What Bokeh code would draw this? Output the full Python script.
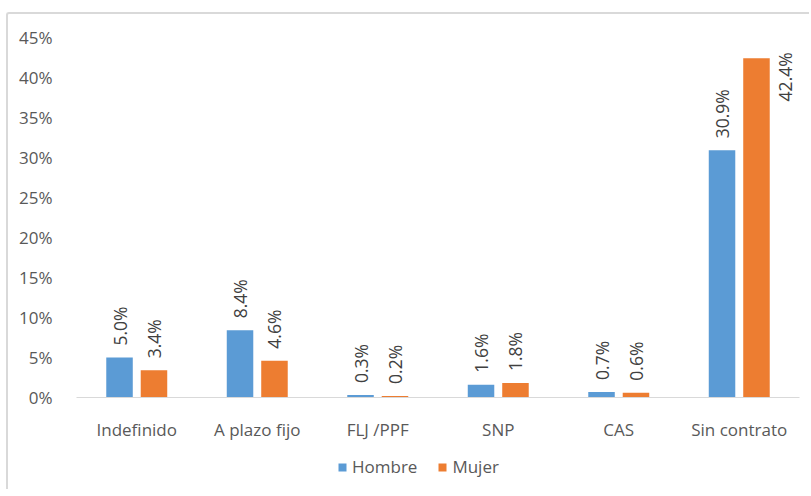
from bokeh.plotting import figure
from bokeh.layouts import column
from bokeh.models import ColumnDataSource, Legend, LegendItem, FactorRange
from bokeh.transform import dodge
from bokeh.core.properties import value
from bokeh.embed import file_html
from bokeh.resources import INLINE

categories = ["Indefinido", "A plazo fijo", "FLJ /PPF", "SNP", "CAS", "Sin contrato"]
hombre = [5.0, 8.4, 0.3, 1.6, 0.7, 30.9]
mujer = [3.4, 4.6, 0.2, 1.8, 0.6, 42.4]
series_names = ["Hombre", "Mujer"]
y_ticks = [0, 5, 10, 15, 20, 25, 30, 35, 40, 45]

FONT = "Open Sans"
FS = "17px"
BLUE = "#5b9bd5"
ORANGE = "#ed7d31"
YMAX = 45

p = figure(x_range=FactorRange(*categories), y_range=(0, YMAX),
           width=801, height=430, output_backend="svg", toolbar_location=None,
           min_border_left=68, min_border_right=10, min_border_top=23, min_border_bottom=47)
p.outline_line_color = None
p.xgrid.grid_line_color = None
p.ygrid.grid_line_color = None

src = ColumnDataSource(dict(
    cat=categories, h=hombre, m=mujer,
    hl=[f"{v:.1f}%" for v in hombre], ml=[f"{v:.1f}%" for v in mujer],
))

r1 = p.vbar(x=dodge("cat", -0.143, range=p.x_range), top="h", width=0.22, source=src,
            fill_color=BLUE, line_color=None)
r2 = p.vbar(x=dodge("cat", 0.143, range=p.x_range), top="m", width=0.22, source=src,
            fill_color=ORANGE, line_color=None)

# data labels: above bar normally, beside bar if it would overflow the plot area
def labels(vals, texts, off):
    normal = [i for i, v in enumerate(vals) if v < YMAX - 6]
    beside = [i for i, v in enumerate(vals) if v >= YMAX - 6]
    s1 = ColumnDataSource(dict(cat=[categories[i] for i in normal], v=[vals[i] for i in normal],
                               t=[texts[i] for i in normal]))
    p.text(x=dodge("cat", off, range=p.x_range), y="v", text="t", source=s1, angle=1.5708,
           text_align="left", text_baseline="middle", y_offset=-12,
           text_font=value(FONT), text_font_size="17.5px", text_color="#404040")
    if beside:
        s2 = ColumnDataSource(dict(cat=[categories[i] for i in beside], v=[vals[i] for i in beside],
                                   t=[texts[i] for i in beside]))
        p.text(x=dodge("cat", off, range=p.x_range), y="v", text="t", source=s2, angle=1.5708,
               text_align="right", text_baseline="middle", x_offset=29, y_offset=-6,
               text_font=value(FONT), text_font_size="17.5px", text_color="#404040")

labels(hombre, src.data["hl"], -0.143)
labels(mujer, src.data["ml"], 0.143)

p.yaxis.ticker = y_ticks
p.yaxis.major_label_overrides = {t: f"{t}%" for t in y_ticks}
p.yaxis.axis_line_color = None
p.yaxis.major_tick_line_color = None
p.yaxis.minor_tick_line_color = None
p.yaxis.major_label_standoff = 18
p.yaxis.major_label_text_font = FONT
p.yaxis.major_label_text_font_size = FS
p.yaxis.major_label_text_color = "#595959"

p.xaxis.axis_line_color = "#d9d9d9"
p.xaxis.axis_line_width = 1
p.xaxis.major_tick_line_color = None
p.xaxis.minor_tick_line_color = None
p.xaxis.major_label_standoff = 14
p.xaxis.major_label_text_font = FONT
p.xaxis.major_label_text_font_size = FS
p.xaxis.major_label_text_color = "#595959"

# legend strip below the chart (swatch renderers sit outside the visible range)
lf = figure(width=801, height=45, output_backend="svg", toolbar_location=None,
            x_axis_type=None, y_axis_type=None, x_range=(0, 1), y_range=(0, 1),
            min_border=0)
lf.outline_line_color = None
lf.xgrid.grid_line_color = None
lf.ygrid.grid_line_color = None
e = ColumnDataSource(dict(x=[-10], t=[-10]))
l1 = lf.vbar(x="x", top="t", width=0.1, source=e, fill_color=BLUE, line_color=None)
l2 = lf.vbar(x="x", top="t", width=0.1, source=e, fill_color=ORANGE, line_color=None)
legend = Legend(items=[LegendItem(label=series_names[0], renderers=[l1]),
                       LegendItem(label=series_names[1], renderers=[l2])],
                location=(261, 11), orientation="horizontal",
                glyph_width=10, glyph_height=10, label_standoff=5, spacing=20,
                padding=0, margin=0, border_line_color=None, background_fill_alpha=0,
                label_text_font=FONT, label_text_font_size=FS, label_text_color="#595959")
lf.add_layout(legend)

layout = column(p, lf, spacing=0)
layout.styles = {"border-top": "2px solid #d9d9d9", "border-left": "2px solid #d9d9d9",
                 "margin-top": "12px", "margin-left": "6px", "border-top-left-radius": "3px"}

open("out.html", "w").write(file_html(layout, INLINE))
